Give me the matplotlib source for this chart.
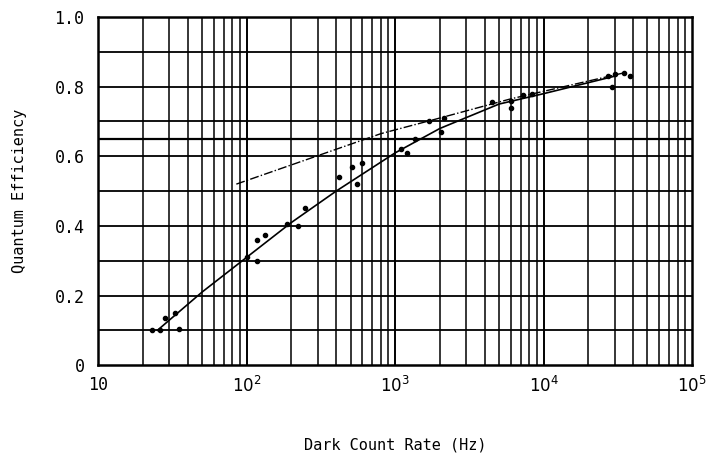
import numpy as np
import matplotlib
matplotlib.use('Agg')
from matplotlib import pyplot as plt

# measured points (dark count rate in Hz, quantum efficiency)
pts_x = [23, 26, 28, 33, 35, 100, 117, 118, 132, 186, 220, 245, 420, 515, 550, 600,
         1100, 1200, 1350, 1700, 2040, 2140, 4500, 6000, 6000, 7200, 8300,
         27000, 30000, 29000, 35000, 38000]
pts_y = [0.10, 0.10, 0.135, 0.15, 0.105, 0.31, 0.36, 0.30, 0.375, 0.405, 0.40, 0.45,
         0.54, 0.57, 0.52, 0.58, 0.62, 0.61, 0.65, 0.70, 0.67, 0.71, 0.755, 0.76, 0.74,
         0.775, 0.78, 0.83, 0.835, 0.80, 0.84, 0.83]

# solid fitted curve
fit_x = [25, 50, 100, 200, 400, 1000, 2000, 5000, 10000, 30000]
fit_y = [0.10, 0.21, 0.31, 0.41, 0.50, 0.61, 0.68, 0.75, 0.78, 0.83]

# dash-dot curve
dash_x = [85, 800, 2000, 6000, 35000]
dash_y = [0.52, 0.665, 0.71, 0.765, 0.84]

xtick_vals = [10, 100, 1000, 10000, 100000]
xtick_labels = ['10', '$10^2$', '$10^3$', '$10^4$', '$10^5$']
ytick_vals = [0, 0.2, 0.4, 0.6, 0.8, 1.0]
ytick_labels = ['0', '0.2', '0.4', '0.6', '0.8', '1.0']

plt.rcParams['font.family'] = ['DejaVu Sans Mono']
plt.rcParams['mathtext.fontset'] = 'dejavusans'

fig = plt.figure(figsize=(7.18, 4.61), dpi=100)
ax = fig.add_axes([0.137, 0.208, 0.827, 0.755])
ax.set_xscale('log')
ax.set_xlim(10, 1e5)
ax.set_ylim(0, 1.0)

# graph paper grid
for dec in [10, 100, 1000, 10000]:
    for m in range(1, 10):
        ax.axvline(dec * m, color='black', lw=1.4 if m == 1 else 1.1, zorder=1)
for yv in np.arange(0.1, 1.0, 0.1):
    ax.axhline(yv, color='black', lw=1.3, zorder=1)
ax.axhline(0.65, color='black', lw=1.6, zorder=1)

ax.plot(fit_x, fit_y, color='black', lw=1.2, zorder=3)
ax.plot(dash_x, dash_y, color='black', lw=1.0, ls='-.', zorder=3)
ax.plot(pts_x, pts_y, 'o', color='black', ms=3, zorder=4)

ax.set_xticks(xtick_vals)
ax.set_xticklabels(xtick_labels, fontsize=12)
ax.set_xticks([], minor=True)
ax.set_yticks(ytick_vals)
ax.set_yticklabels(ytick_labels, fontsize=12)
ax.tick_params(axis='x', length=0, pad=8)
ax.tick_params(axis='y', length=0, pad=10)
for s in ax.spines.values():
    s.set_linewidth(1.8)

ax.set_ylabel('Quantum Efficiency', fontsize=11, labelpad=20)
ax.set_xlabel('Dark Count Rate (Hz)', fontsize=11, labelpad=30)

plt.savefig('out.png', dpi=100)
